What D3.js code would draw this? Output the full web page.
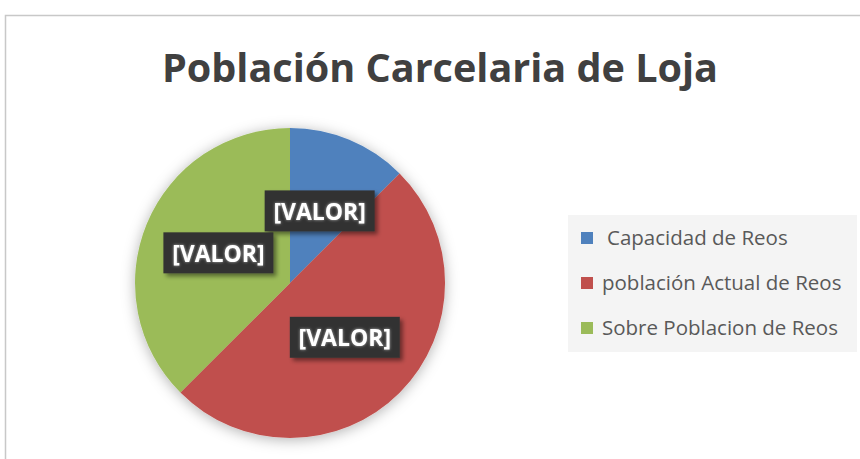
<!DOCTYPE html>
<html>
<head>
<meta charset="utf-8">
<script src="https://cdn.jsdelivr.net/npm/d3@7"></script>
<style>
  body { margin: 0; background: #fff; }
  text { font-family: "Open Sans", "Noto Sans", sans-serif; }
</style>
</head>
<body>
<div id="chart"></div>
<script>
// data (shares of the pie)
const categories = ['Capacidad de Reos', 'población Actual de Reos', 'Sobre Poblacion de Reos'];
const values = [12.5, 50, 37.5];
const colors = ['#4f81bd', '#c0504d', '#9bbb59'];
const labelText = '[VALOR]';

const width = 860;
const height = 459;
const cx = 290, cy = 283, radius = 155;

const svg = d3.select('#chart')
    .append('svg')
    .attr('width', width)
    .attr('height', height);

const defs = svg.append('defs');
const pieShadow = defs.append('filter').attr('id', 'pieShadow')
    .attr('x', '-20%').attr('y', '-20%').attr('width', '140%').attr('height', '140%');
pieShadow.append('feDropShadow').attr('dx', 0).attr('dy', 2).attr('stdDeviation', 7)
    .attr('flood-color', '#000').attr('flood-opacity', 0.3);

const boxShadow = defs.append('filter').attr('id', 'boxShadow')
    .attr('x', '-20%').attr('y', '-30%').attr('width', '150%').attr('height', '180%');
boxShadow.append('feDropShadow').attr('dx', 3).attr('dy', 3).attr('stdDeviation', 2)
    .attr('flood-color', '#000').attr('flood-opacity', 0.45);

const glow = defs.append('filter').attr('id', 'glow')
    .attr('x', '-20%').attr('y', '-40%').attr('width', '140%').attr('height', '180%');
glow.append('feDropShadow').attr('dx', 0).attr('dy', 0).attr('stdDeviation', 1.5)
    .attr('flood-color', '#fff').attr('flood-opacity', 0.6);

// chart frame
svg.append('path')
    .attr('d', `M5.5,${height} V15.5 H${width}`)
    .attr('fill', 'none')
    .attr('stroke', '#c8c8c8')
    .attr('stroke-width', 1.5);

// title
svg.append('text')
    .attr('x', 440)
    .attr('y', 82)
    .attr('text-anchor', 'middle')
    .attr('font-size', 39)
    .attr('font-weight', 'bold')
    .attr('fill', '#404040')
    .attr('textLength', 556)
    .attr('lengthAdjust', 'spacingAndGlyphs')
    .text('Población Carcelaria de Loja');

const pie = d3.pie().sort(null).value(d => d);
const arcs = pie(values);
const arc = d3.arc().innerRadius(0).outerRadius(radius);

const g = svg.append('g').attr('transform', `translate(${cx},${cy})`);

g.append('g')
    .attr('filter', 'url(#pieShadow)')
    .selectAll('path')
    .data(arcs)
    .join('path')
    .attr('d', arc)
    .attr('fill', (d, i) => colors[i]);

// data labels
const lab = g.selectAll('g.lab')
    .data(arcs)
    .join('g')
    .attr('class', 'lab')
    .attr('transform', d => `translate(${arc.centroid(d)})`);

lab.append('rect')
    .attr('x', -55).attr('y', -21)
    .attr('width', 110).attr('height', 41)
    .attr('fill', '#333333')
    .attr('filter', 'url(#boxShadow)');

lab.append('text')
    .attr('text-anchor', 'middle')
    .attr('dy', '0.36em')
    .attr('font-size', 23)
    .attr('font-weight', 'bold')
    .attr('fill', '#ffffff')
    .attr('filter', 'url(#glow)')
    .text(labelText);

// legend
const legend = svg.append('g');
legend.append('rect')
    .attr('x', 568).attr('y', 215)
    .attr('width', 289).attr('height', 137)
    .attr('fill', '#f4f4f4');

const rowY = [238, 283, 328];
const textX = [607, 602, 602];
const item = legend.selectAll('g.item')
    .data(categories)
    .join('g')
    .attr('class', 'item');

item.append('rect')
    .attr('x', 581)
    .attr('y', (d, i) => rowY[i] - 6)
    .attr('width', 12).attr('height', 12)
    .attr('fill', (d, i) => colors[i]);

item.append('text')
    .attr('x', (d, i) => textX[i])
    .attr('y', (d, i) => rowY[i])
    .attr('dy', '0.35em')
    .attr('font-size', 20.5)
    .attr('fill', '#595959')
    .text(d => d);
</script>
</body>
</html>
